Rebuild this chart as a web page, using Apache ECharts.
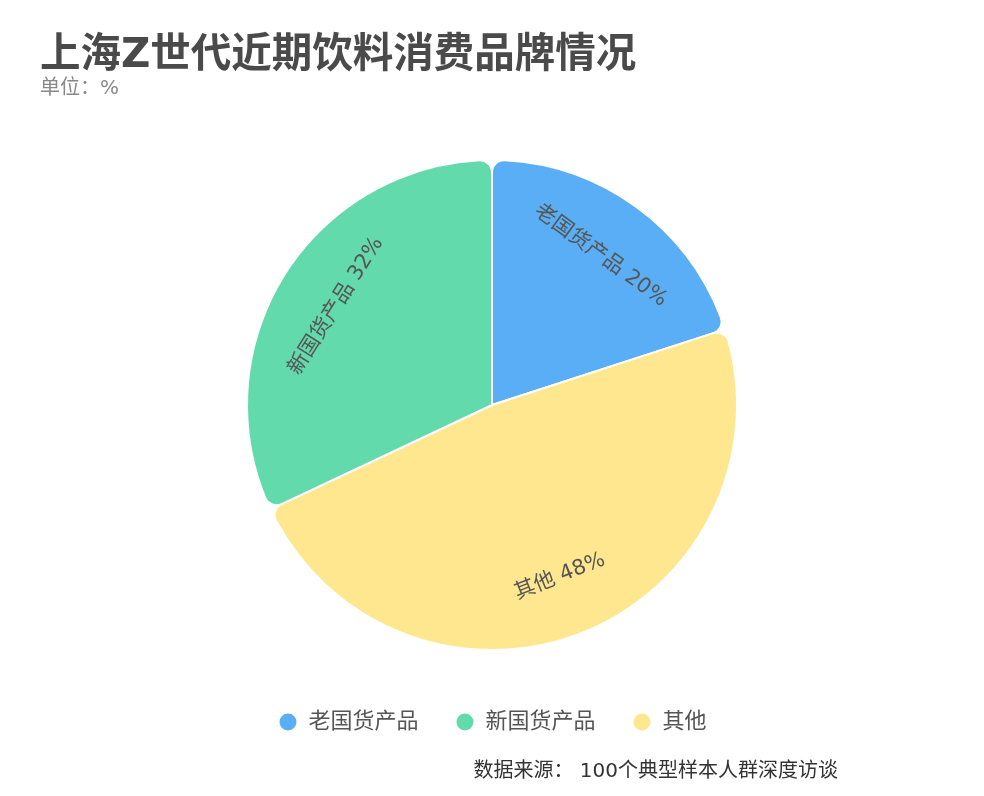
<!DOCTYPE html>
<html lang="zh-CN">
<head>
<meta charset="UTF-8">
<title>上海Z世代近期饮料消费品牌情况</title>
<style>
  html, body { margin: 0; padding: 0; background: #fff; }
  #chart { width: 984px; height: 796px; }
</style>
</head>
<body>
<div id="chart"></div>
<script src="https://cdn.jsdelivr.net/npm/echarts@6/dist/echarts.min.js"></script>
<script>
// 数据
var legendNames = ["老国货产品", "新国货产品", "其他"];
var sliceNames = ["老国货产品", "其他", "新国货产品"];   // 饼图顺时针顺序
var sliceValues = [20, 48, 32];
var sliceColors = ["#5AAEF5", "#62DAAB", "#FFE790"];
var colorByName = { "老国货产品": sliceColors[0], "新国货产品": sliceColors[1], "其他": sliceColors[2] };

var font = "'DejaVu Sans', 'Noto Sans CJK SC', sans-serif";

var pieData = sliceNames.map(function (n, i) {
  return { name: n, value: sliceValues[i], itemStyle: { color: colorByName[n] } };
});

var chart = echarts.init(document.getElementById("chart"));

var option = {
  backgroundColor: "#fff",
  title: {
    text: "上海Z世代近期饮料消费品牌情况",
    subtext: "单位：%",
    left: 35,
    top: 31,
    itemGap: 2,
    textStyle: { fontFamily: font, fontSize: 40.5, fontWeight: "bold", color: "#4a4a4a" },
    subtextStyle: { fontFamily: font, fontSize: 20, color: "#888" }
  },
  legend: {
    data: legendNames,
    bottom: 58,
    left: "center",
    icon: "circle",
    itemWidth: 19,
    itemHeight: 19,
    itemGap: 36,
    textStyle: { fontFamily: font, fontSize: 22, color: "#555", padding: [0, 0, 0, 6] }
  },
  graphic: [{
    type: "text",
    right: 146,
    top: 762,
    style: {
      text: "数据来源： 100个典型样本人群深度访谈",
      font: "20px " + font,
      fill: "#333"
    }
  }],
  series: [
    {
      // 扇区
      type: "pie",
      center: [492, 405],
      radius: [0, 245],
      startAngle: 90,
      clockwise: true,
      data: pieData,
      itemStyle: { borderColor: "#fff", borderWidth: 2, borderRadius: 12 },
      label: { show: false },
      labelLine: { show: false },
      emphasis: { disabled: true }
    },
    {
      // 标签层（透明），让标签落在扇区外侧
      type: "pie",
      silent: true,
      center: [492, 405],
      radius: [118, 245],
      startAngle: 90,
      clockwise: true,
      data: pieData.map(function (d) { return { name: d.name, value: d.value }; }),
      itemStyle: { color: "rgba(0,0,0,0)" },
      label: {
        show: true,
        position: "inside",
        rotate: "tangential",
        formatter: "{b} {c}%",
        fontFamily: font,
        fontSize: 21,
        color: "#555"
      },
      labelLine: { show: false },
      emphasis: { disabled: true }
    }
  ]
};

chart.setOption(option);
</script>
</body>
</html>
